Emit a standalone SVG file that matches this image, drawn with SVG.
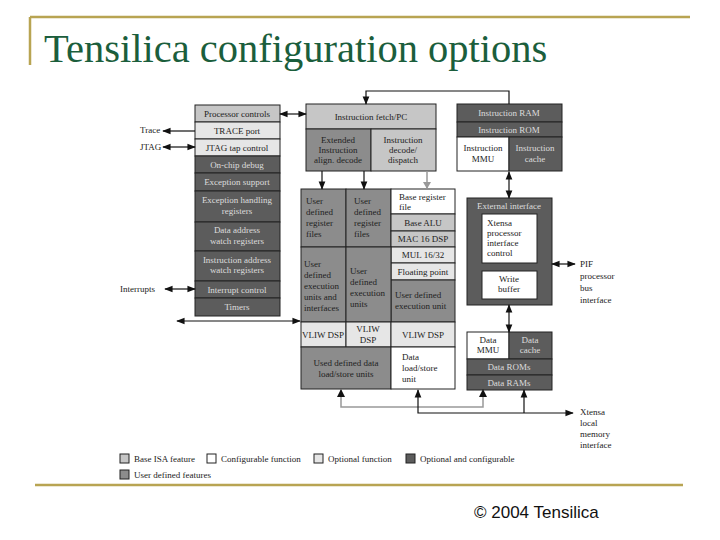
<svg xmlns="http://www.w3.org/2000/svg" width="720" height="540" viewBox="0 0 720 540">
<style>
.b{stroke:#222;stroke-width:1}
.base{fill:#c6c6c6}.conf{fill:#fff}.opt{fill:#e6e6e6}.oc{fill:#5c5c5c}.ud{fill:#8c8c8c}
text{font-family:"Liberation Serif",serif;font-size:9px;fill:#222}
.c{text-anchor:middle}
.l{fill:#dcdcdc}
.w{stroke:#111;stroke-width:1.2;fill:none}
.g{stroke:#999;stroke-width:1.5;fill:none}
</style>
<defs>
<marker id="a" viewBox="0 0 10 10" refX="9" refY="5" markerWidth="8" markerHeight="7" orient="auto-start-reverse"><path d="M0,1L10,5L0,9z" fill="#111"/></marker>
</defs>
<rect width="720" height="540" fill="#fff"/>
<path d="M30,17H690M30,17V65M35,485H683" stroke="#b8a452" stroke-width="2.5" fill="none"/>
<text x="44" y="62" style="font-size:40.5px;fill:#1b5e3c">Tensilica configuration options</text>
<text x="474" y="518" style="font-family:'Liberation Sans',sans-serif;font-size:17px;fill:#111">© 2004 Tensilica</text>

<g id="left">
<rect class="b base" x="195" y="105" width="85" height="17"/><text class="c" x="237" y="117">Processor controls</text>
<rect class="b opt" x="195" y="122" width="85" height="17"/><text class="c" x="237" y="134">TRACE port</text>
<rect class="b opt" x="195" y="139" width="85" height="17"/><text class="c" x="237" y="151">JTAG tap control</text>
<rect class="b oc" x="195" y="156" width="85" height="17"/><text class="c l" x="237" y="168">On-chip debug</text>
<rect class="b oc" x="195" y="173" width="85" height="18"/><text class="c l" x="237" y="185">Exception support</text>
<rect class="b oc" x="195" y="191" width="85" height="31"/><text class="c l" x="237" y="203">Exception handling</text><text class="c l" x="237" y="214">registers</text>
<rect class="b oc" x="195" y="222" width="85" height="29"/><text class="c l" x="237" y="233">Data address</text><text class="c l" x="237" y="244">watch registers</text>
<rect class="b oc" x="195" y="251" width="85" height="30"/><text class="c l" x="237" y="263">Instruction address</text><text class="c l" x="237" y="273">watch registers</text>
<rect class="b oc" x="195" y="281" width="85" height="17"/><text class="c l" x="237" y="293">Interrupt control</text>
<rect class="b oc" x="195" y="298" width="85" height="18"/><text class="c l" x="237" y="310">Timers</text>
</g>

<g id="fetch">
<rect class="b base" x="306" y="104" width="130" height="25"/><text class="c" x="371" y="120">Instruction fetch/PC</text>
<rect class="b ud" x="306" y="129" width="65" height="42"/><text class="c" x="338" y="143">Extended</text><text class="c" x="338" y="153">Instruction</text><text class="c" x="338" y="163">align. decode</text>
<rect class="b base" x="371" y="129" width="65" height="42"/><text class="c" x="403" y="143">Instruction</text><text class="c" x="403" y="153">decode/</text><text class="c" x="403" y="163">dispatch</text>
</g>

<g id="exec">
<rect class="b ud" x="301" y="189" width="45" height="58"/><text x="306" y="204">User</text><text x="306" y="215">defined</text><text x="306" y="226">register</text><text x="306" y="237">files</text>
<rect class="b ud" x="346" y="189" width="45" height="58"/><text x="354" y="204">User</text><text x="354" y="215">defined</text><text x="354" y="226">register</text><text x="354" y="237">files</text>
<rect class="b conf" x="391" y="189" width="64" height="25"/><text x="399" y="200">Base register</text><text x="399" y="210">file</text>
<rect class="b base" x="391" y="214" width="64" height="17"/><text class="c" x="423" y="226">Base ALU</text>
<rect class="b base" x="391" y="231" width="64" height="16"/><text class="c" x="423" y="242">MAC 16 DSP</text>
<rect class="b opt" x="391" y="247" width="64" height="16"/><text class="c" x="423" y="258">MUL 16/32</text>
<rect class="b opt" x="391" y="263" width="64" height="17"/><text class="c" x="423" y="275">Floating point</text>
<rect class="b ud" x="391" y="280" width="64" height="42"/><text x="395" y="298">User defined</text><text x="395" y="309">execution unit</text>
<rect class="b ud" x="301" y="247" width="45" height="75"/><text x="304" y="267">User</text><text x="304" y="278">defined</text><text x="304" y="289">execution</text><text x="304" y="300">units and</text><text x="304" y="311">interfaces</text>
<rect class="b ud" x="346" y="247" width="45" height="75"/><text x="350" y="274">User</text><text x="350" y="285">defined</text><text x="350" y="296">execution</text><text x="350" y="307">units</text>
<rect class="b opt" x="301" y="322" width="45" height="25"/><text class="c" x="323" y="338">VLIW DSP</text>
<rect class="b opt" x="346" y="322" width="45" height="25"/><text class="c" x="368" y="332">VLIW</text><text class="c" x="368" y="343">DSP</text>
<rect class="b opt" x="391" y="322" width="64" height="25"/><text class="c" x="423" y="338">VLIW DSP</text>
<rect class="b ud" x="301" y="347" width="90" height="42"/><text class="c" x="346" y="366">Used defined data</text><text class="c" x="346" y="377">load/store units</text>
<rect class="b conf" x="391" y="347" width="64" height="42"/><text x="402" y="360">Data</text><text x="402" y="371">load/store</text><text x="402" y="382">unit</text>
</g>

<g id="imem">
<rect class="b oc" x="457" y="104" width="105" height="18"/><text class="c l" x="509" y="116">Instruction RAM</text>
<rect class="b oc" x="457" y="122" width="105" height="15"/><text class="c l" x="509" y="133">Instruction ROM</text>
<rect class="b conf" x="457" y="137" width="52" height="34"/><text class="c" x="483" y="151">Instruction</text><text class="c" x="483" y="162">MMU</text>
<rect class="b oc" x="509" y="137" width="53" height="34"/><text class="c l" x="535" y="151">Instruction</text><text class="c l" x="535" y="162">cache</text>
</g>

<g id="ext">
<rect class="b oc" x="467" y="198" width="85" height="107"/><text class="c l" x="509" y="209">External interface</text>
<rect class="b conf" x="482" y="214" width="55" height="49"/><text x="487" y="226">Xtensa</text><text x="487" y="236">processor</text><text x="487" y="246">interface</text><text x="487" y="256">control</text>
<rect class="b conf" x="482" y="271" width="55" height="28"/><text class="c" x="509" y="282">Write</text><text class="c" x="509" y="292">buffer</text>
</g>

<g id="dmem">
<rect class="b conf" x="467" y="332" width="42" height="27"/><text class="c" x="488" y="343">Data</text><text class="c" x="488" y="353">MMU</text>
<rect class="b oc" x="509" y="332" width="43" height="27"/><text class="c l" x="530" y="343">Data</text><text class="c l" x="530" y="353">cache</text>
<rect class="b oc" x="467" y="359" width="85" height="16"/><text class="c l" x="509" y="370">Data ROMs</text>
<rect class="b oc" x="467" y="375" width="85" height="15"/><text class="c l" x="509" y="386">Data RAMs</text>
</g>

<g id="labels">
<text x="140" y="133">Trace</text>
<text x="140" y="150">JTAG</text>
<text x="120" y="292">Interrupts</text>
<text x="580" y="267">PIF</text><text x="580" y="279">processor</text><text x="580" y="291">bus</text><text x="580" y="303">interface</text>
<text x="580" y="415">Xtensa</text><text x="580" y="426">local</text><text x="580" y="437">memory</text><text x="580" y="448">interface</text>
</g>

<g id="connectors">
<path class="w" d="M280,114H306" marker-start="url(#a)" marker-end="url(#a)"/>
<path class="w" d="M195,131H163" marker-end="url(#a)"/>
<path class="w" d="M163,147H195" marker-start="url(#a)" marker-end="url(#a)"/>
<path class="w" d="M165,289H195" marker-start="url(#a)" marker-end="url(#a)"/>
<path class="w" d="M177,321H300" marker-start="url(#a)" marker-end="url(#a)"/>
<path class="w" d="M509,104V91H366V104" marker-end="url(#a)"/>
<path class="w" d="M322,171V189" marker-end="url(#a)"/>
<path class="w" d="M364,171V189" marker-end="url(#a)"/>
<path class="g" d="M427,171V188"/><path d="M423,182L427,189L431,182z" fill="#999"/>
<path class="w" d="M509,172V198" marker-start="url(#a)" marker-end="url(#a)"/>
<path class="w" d="M509,305V332" marker-start="url(#a)" marker-end="url(#a)"/>
<path class="w" d="M552,264H575" marker-start="url(#a)" marker-end="url(#a)"/>
<path class="g" d="M341,390V407H483V390"/>
<path d="M337,397L341,389L345,397zM479,397L483,389L487,397z" fill="#111"/>
<path class="w" d="M418,390V413H573" marker-start="url(#a)" marker-end="url(#a)"/>
<path class="w" d="M524,413V390" marker-end="url(#a)"/>
</g>

<g id="legend">
<rect class="b base" x="120" y="454" width="9" height="9"/><text x="134" y="462">Base ISA feature</text>
<rect class="b conf" x="207" y="454" width="9" height="9"/><text x="221" y="462">Configurable function</text>
<rect class="b opt" x="314" y="454" width="9" height="9"/><text x="328" y="462">Optional function</text>
<rect class="b oc" x="406" y="454" width="9" height="9"/><text x="420" y="462">Optional and configurable</text>
<rect class="b ud" x="120" y="470" width="9" height="9"/><text x="134" y="478">User defined features</text>
</g>
</svg>
